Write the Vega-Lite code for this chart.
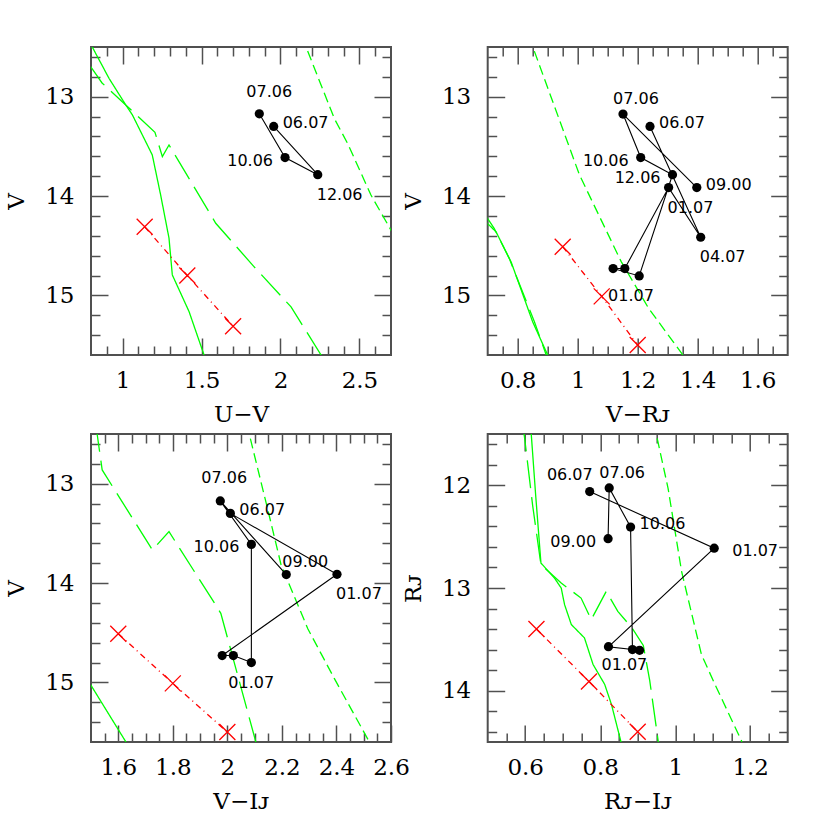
{
  "$schema": "https://vega.github.io/schema/vega-lite/v6.json",
  "background": "white",
  "padding": {"left": 4, "top": 44, "right": 0, "bottom": 0},
  "config": {
    "view": {"stroke": "#505050", "strokeWidth": 2},
    "axis": {"labelFont": "DejaVu Serif", "labelFontSize": 23, "labelColor": "black", "titleFont": "DejaVu Serif", "titleFontSize": 23, "titleFontWeight": "normal", "titleColor": "black", "domain": false, "grid": false, "tickColor": "#505050", "tickWidth": 1.5, "labelOverlap": false, "labelFlush": false, "labelBound": false}
  },
  "datasets": {
    "c1": [
      {"c": "solid", "i": 0, "x": 0.79, "y": 12.447}, {"c": "solid", "i": 1, "x": 0.914, "y": 12.815}, {"c": "solid", "i": 2, "x": 1.02, "y": 13.083}, {"c": "solid", "i": 3, "x": 1.062, "y": 13.183}, {"c": "solid", "i": 4, "x": 1.188, "y": 13.586}, {"c": "solid", "i": 5, "x": 1.241, "y": 13.989}, {"c": "solid", "i": 6, "x": 1.294, "y": 14.424}, {"c": "solid", "i": 7, "x": 1.315, "y": 14.794}, {"c": "solid", "i": 8, "x": 1.421, "y": 15.163}, {"c": "solid", "i": 9, "x": 1.516, "y": 15.6}, {"c": "solid", "i": 10, "x": 1.53, "y": 15.65},
      {"c": "long", "i": 0, "x": 0.78, "y": 12.657}, {"c": "long", "i": 1, "x": 0.87, "y": 12.862}, {"c": "long", "i": 2, "x": 1.02, "y": 13.083}, {"c": "long", "i": 3, "x": 1.205, "y": 13.358}, {"c": "long", "i": 4, "x": 1.252, "y": 13.604}, {"c": "long", "i": 5, "x": 1.294, "y": 13.486}, {"c": "long", "i": 6, "x": 1.59, "y": 14.274}, {"c": "long", "i": 7, "x": 1.832, "y": 14.71}, {"c": "long", "i": 8, "x": 2.067, "y": 15.116}, {"c": "long", "i": 9, "x": 2.257, "y": 15.6}, {"c": "long", "i": 10, "x": 2.27, "y": 15.65},
      {"c": "short", "i": 0, "x": 2.137, "y": 12.4}, {"c": "short", "i": 1, "x": 2.162, "y": 12.5}, {"c": "short", "i": 2, "x": 2.341, "y": 13.22}, {"c": "short", "i": 3, "x": 2.426, "y": 13.473}, {"c": "short", "i": 4, "x": 2.573, "y": 13.99}, {"c": "short", "i": 5, "x": 2.7, "y": 14.344}, {"c": "short", "i": 6, "x": 2.75, "y": 14.48},
      {"c": "red", "i": 0, "x": 1.14, "y": 14.31}, {"c": "red", "i": 1, "x": 1.41, "y": 14.8}, {"c": "red", "i": 2, "x": 1.7, "y": 15.31}
    ],
    "c2": [
      {"c": "solid", "i": 0, "x": 0.68, "y": 14.218}, {"c": "solid", "i": 1, "x": 0.7, "y": 14.278}, {"c": "solid", "i": 2, "x": 0.728, "y": 14.361}, {"c": "solid", "i": 3, "x": 0.778, "y": 14.663}, {"c": "solid", "i": 4, "x": 0.85, "y": 15.267}, {"c": "solid", "i": 5, "x": 0.9, "y": 15.6}, {"c": "solid", "i": 6, "x": 0.91, "y": 15.67},
      {"c": "long", "i": 0, "x": 0.68, "y": 14.14}, {"c": "long", "i": 1, "x": 0.7, "y": 14.228}, {"c": "long", "i": 2, "x": 0.722, "y": 14.328}, {"c": "long", "i": 3, "x": 0.772, "y": 14.63}, {"c": "long", "i": 4, "x": 0.856, "y": 15.267}, {"c": "long", "i": 5, "x": 0.895, "y": 15.6}, {"c": "long", "i": 6, "x": 0.905, "y": 15.67},
      {"c": "short", "i": 0, "x": 0.838, "y": 12.4}, {"c": "short", "i": 1, "x": 0.854, "y": 12.53}, {"c": "short", "i": 2, "x": 1.006, "y": 13.788}, {"c": "short", "i": 3, "x": 1.145, "y": 14.66}, {"c": "short", "i": 4, "x": 1.237, "y": 15.133}, {"c": "short", "i": 5, "x": 1.346, "y": 15.58}, {"c": "short", "i": 6, "x": 1.372, "y": 15.7},
      {"c": "red", "i": 0, "x": 0.95, "y": 14.51}, {"c": "red", "i": 1, "x": 1.08, "y": 15.01}, {"c": "red", "i": 2, "x": 1.2, "y": 15.5}
    ],
    "c3": [
      {"c": "solid", "i": 0, "x": 1.48, "y": 14.94}, {"c": "solid", "i": 1, "x": 1.499, "y": 15.025}, {"c": "solid", "i": 2, "x": 1.627, "y": 15.595}, {"c": "solid", "i": 3, "x": 1.65, "y": 15.697},
      {"c": "long", "i": 0, "x": 1.517, "y": 12.4}, {"c": "long", "i": 1, "x": 1.523, "y": 12.51}, {"c": "long", "i": 2, "x": 1.541, "y": 12.862}, {"c": "long", "i": 3, "x": 1.725, "y": 13.667}, {"c": "long", "i": 4, "x": 1.786, "y": 13.483}, {"c": "long", "i": 5, "x": 1.957, "y": 14.22}, {"c": "long", "i": 6, "x": 1.976, "y": 14.305}, {"c": "long", "i": 7, "x": 2.104, "y": 15.595}, {"c": "long", "i": 8, "x": 2.114, "y": 15.7},
      {"c": "short", "i": 0, "x": 2.072, "y": 12.4}, {"c": "short", "i": 1, "x": 2.081, "y": 12.51}, {"c": "short", "i": 2, "x": 2.153, "y": 13.315}, {"c": "short", "i": 3, "x": 2.197, "y": 13.818}, {"c": "short", "i": 4, "x": 2.295, "y": 14.46}, {"c": "short", "i": 5, "x": 2.392, "y": 14.96}, {"c": "short", "i": 6, "x": 2.52, "y": 15.596}, {"c": "short", "i": 7, "x": 2.54, "y": 15.7},
      {"c": "red", "i": 0, "x": 1.6, "y": 14.51}, {"c": "red", "i": 1, "x": 1.8, "y": 15.01}, {"c": "red", "i": 2, "x": 2.0, "y": 15.5}
    ],
    "c4": [
      {"c": "solid", "i": 0, "x": 0.612, "y": 11.4}, {"c": "solid", "i": 1, "x": 0.616, "y": 11.494}, {"c": "solid", "i": 2, "x": 0.628, "y": 12.1}, {"c": "solid", "i": 3, "x": 0.642, "y": 12.757}, {"c": "solid", "i": 4, "x": 0.678, "y": 12.903}, {"c": "solid", "i": 5, "x": 0.696, "y": 13.0}, {"c": "solid", "i": 6, "x": 0.705, "y": 13.162}, {"c": "solid", "i": 7, "x": 0.723, "y": 13.356}, {"c": "solid", "i": 8, "x": 0.758, "y": 13.486}, {"c": "solid", "i": 9, "x": 0.781, "y": 13.745}, {"c": "solid", "i": 10, "x": 0.812, "y": 13.939}, {"c": "solid", "i": 11, "x": 0.83, "y": 14.134}, {"c": "solid", "i": 12, "x": 0.856, "y": 14.507}, {"c": "solid", "i": 13, "x": 0.862, "y": 14.6},
      {"c": "long", "i": 0, "x": 0.592, "y": 11.4}, {"c": "long", "i": 1, "x": 0.598, "y": 11.526}, {"c": "long", "i": 2, "x": 0.62, "y": 12.2}, {"c": "long", "i": 3, "x": 0.642, "y": 12.773}, {"c": "long", "i": 4, "x": 0.696, "y": 12.952}, {"c": "long", "i": 5, "x": 0.749, "y": 13.098}, {"c": "long", "i": 6, "x": 0.776, "y": 13.308}, {"c": "long", "i": 7, "x": 0.816, "y": 13.033}, {"c": "long", "i": 8, "x": 0.847, "y": 13.227}, {"c": "long", "i": 9, "x": 0.885, "y": 13.39}, {"c": "long", "i": 10, "x": 0.915, "y": 13.56}, {"c": "long", "i": 11, "x": 0.932, "y": 13.9}, {"c": "long", "i": 12, "x": 0.955, "y": 14.5}, {"c": "long", "i": 13, "x": 0.96, "y": 14.6},
      {"c": "short", "i": 0, "x": 0.944, "y": 11.4}, {"c": "short", "i": 1, "x": 0.95, "y": 11.51}, {"c": "short", "i": 2, "x": 0.981, "y": 12.029}, {"c": "short", "i": 3, "x": 1.017, "y": 12.838}, {"c": "short", "i": 4, "x": 1.07, "y": 13.648}, {"c": "short", "i": 5, "x": 1.106, "y": 13.939}, {"c": "short", "i": 6, "x": 1.177, "y": 14.49}, {"c": "short", "i": 7, "x": 1.185, "y": 14.6},
      {"c": "red", "i": 0, "x": 0.63, "y": 13.4}, {"c": "red", "i": 1, "x": 0.77, "y": 13.91}, {"c": "red", "i": 2, "x": 0.9, "y": 14.4}
    ],
    "o1": [
      {"seq": 2, "x": 1.866, "y": 13.172, "label": "07.06", "pos": "N"},
      {"seq": 3, "x": 2.029, "y": 13.613, "label": "10.06", "pos": "W"},
      {"seq": 4, "x": 2.236, "y": 13.785, "label": "12.06", "pos": "S"},
      {"seq": 10, "x": 1.957, "y": 13.3, "label": "06.07", "pos": "E"}
    ],
    "o2": [
      {"seq": 1, "x": 1.397, "y": 13.915, "label": "09.00", "pos": "E"},
      {"seq": 2, "x": 1.151, "y": 13.175, "label": "07.06", "pos": "NE"},
      {"seq": 3, "x": 1.21, "y": 13.613, "label": "10.06", "pos": "W"},
      {"seq": 4, "x": 1.316, "y": 13.785, "label": "12.06", "pos": "W"},
      {"seq": 5, "x": 1.205, "y": 14.804, "label": "", "pos": ""},
      {"seq": 6, "x": 1.118, "y": 14.73, "label": "01.07", "pos": "SS"},
      {"seq": 7, "x": 1.157, "y": 14.73, "label": "", "pos": ""},
      {"seq": 8, "x": 1.303, "y": 13.915, "label": "01.07", "pos": "S"},
      {"seq": 9, "x": 1.41, "y": 14.415, "label": "04.07", "pos": "S"},
      {"seq": 10, "x": 1.241, "y": 13.3, "label": "06.07", "pos": "E"}
    ],
    "o3": [
      {"seq": 1, "x": 2.216, "y": 13.915, "label": "09.00", "pos": "NE2"},
      {"seq": 2, "x": 1.974, "y": 13.174, "label": "07.06", "pos": "NL"},
      {"seq": 3, "x": 2.088, "y": 13.611, "label": "10.06", "pos": "W"},
      {"seq": 5, "x": 2.088, "y": 14.8, "label": "", "pos": ""},
      {"seq": 6, "x": 2.022, "y": 14.73, "label": "01.07", "pos": "SS"},
      {"seq": 7, "x": 1.981, "y": 14.73, "label": "", "pos": ""},
      {"seq": 8, "x": 2.402, "y": 13.912, "label": "01.07", "pos": "S"},
      {"seq": 10, "x": 2.011, "y": 13.299, "label": "06.07", "pos": "E"}
    ],
    "o4": [
      {"seq": 1, "x": 0.821, "y": 12.52, "label": "09.00", "pos": "W"},
      {"seq": 2, "x": 0.824, "y": 12.025, "label": "07.06", "pos": "NE"},
      {"seq": 3, "x": 0.881, "y": 12.406, "label": "10.06", "pos": "E"},
      {"seq": 5, "x": 0.886, "y": 13.6, "label": "", "pos": ""},
      {"seq": 6, "x": 0.905, "y": 13.607, "label": "", "pos": ""},
      {"seq": 7, "x": 0.822, "y": 13.572, "label": "01.07", "pos": "SW"},
      {"seq": 8, "x": 1.104, "y": 12.612, "label": "01.07", "pos": "EE"},
      {"seq": 10, "x": 0.772, "y": 12.061, "label": "06.07", "pos": "NW"}
    ]
  },
  "columns": 2,
  "spacing": {"row": 79, "column": 96.7},
  "bounds": "flush",
  "resolve": {"scale": {"x": "independent", "y": "independent"}},
  "concat": [
    {
      "width": 300, "height": 308,
      "layer": [
        {
          "data": {"name": "c1"},
          "mark": {"type": "line", "strokeWidth": 1.3, "clip": true},
          "encoding": {
            "x": {"field": "x", "type": "quantitative", "scale": {"domain": [0.8, 2.7], "nice": false, "zero": false},
              "axis": {"orient": "bottom", "values": [0.9,1,1.1,1.2,1.3,1.4,1.5,1.6,1.7,1.8,1.9,2,2.1,2.2,2.3,2.4,2.5,2.6], "tickSize": {"condition": {"test": "abs(datum.value*2-round(datum.value*2))<0.001", "value": -17}, "value": -9}, "labelExpr": "abs(datum.value*2-round(datum.value*2))<0.001 ? ''+datum.value : ''", "labelPadding": 31, "title": "U−V", "titlePadding": 3}},
            "y": {"field": "y", "type": "quantitative", "scale": {"domain": [12.5, 15.6], "reverse": true, "nice": false, "zero": false},
              "axis": {"orient": "left", "values": [12.6,12.8,13,13.2,13.4,13.6,13.8,14,14.2,14.4,14.6,14.8,15,15.2,15.4], "tickSize": {"condition": {"test": "abs(datum.value-round(datum.value))<0.001", "value": -17}, "value": -9}, "labelExpr": "abs(datum.value-round(datum.value))<0.001 ? ''+datum.value : ''", "labelPadding": 34, "title": "V", "titlePadding": 16}},
            "color": {"field": "c", "type": "nominal", "scale": {"domain": ["solid", "long", "short", "red"], "range": ["#00ff00", "#00ff00", "#00ff00", "#ff0000"]}, "legend": null},
            "strokeDash": {"field": "c", "type": "nominal", "scale": {"domain": ["solid", "long", "short", "red"], "range": [[1, 0], [28, 9], [10, 5], [6, 4, 1, 4]]}, "legend": null},
            "order": {"field": "i", "type": "quantitative"}
          }
        },
        {
          "data": {"name": "c1"},
          "transform": [{"filter": "datum.c == 'red'"}],
          "mark": {"type": "point", "shape": "M-1,-1L1,1M-1,1L1,-1", "size": 256, "stroke": "#ff0000", "strokeWidth": 1.3, "filled": false, "opacity": 1},
          "encoding": {
            "x": {"field": "x", "type": "quantitative", "scale": {"domain": [0.8, 2.7], "nice": false, "zero": false},
              "axis": {"orient": "top", "values": [0.9,1,1.1,1.2,1.3,1.4,1.5,1.6,1.7,1.8,1.9,2,2.1,2.2,2.3,2.4,2.5,2.6], "tickSize": {"condition": {"test": "abs(datum.value*2-round(datum.value*2))<0.001", "value": -17}, "value": -9}, "labels": false, "title": null}},
            "y": {"field": "y", "type": "quantitative", "scale": {"domain": [12.5, 15.6], "reverse": true, "nice": false, "zero": false},
              "axis": {"orient": "right", "values": [12.6,12.8,13,13.2,13.4,13.6,13.8,14,14.2,14.4,14.6,14.8,15,15.2,15.4], "tickSize": {"condition": {"test": "abs(datum.value-round(datum.value))<0.001", "value": -17}, "value": -9}, "labels": false, "title": null}}
          }
        },
        {
          "data": {"name": "o1"},
          "mark": {"type": "line", "color": "black", "strokeWidth": 1.1},
          "encoding": {
            "x": {"field": "x", "type": "quantitative", "axis": null},
            "y": {"field": "y", "type": "quantitative", "axis": null},
            "order": {"field": "seq", "type": "quantitative"}
          }
        },
        {
          "data": {"name": "o1"},
          "mark": {"type": "circle", "size": 85, "color": "black", "opacity": 1},
          "encoding": {
            "x": {"field": "x", "type": "quantitative", "axis": null},
            "y": {"field": "y", "type": "quantitative", "axis": null}
          }
        },
        {
          "data": {"name": "o1"},
          "transform": [{"filter": "datum.label != ''"}],
          "mark": {"type": "text", "font": "DejaVu Sans", "fontSize": 16, "color": "black", "baseline": "middle",
            "align": {"expr": "(datum.pos=='W'||datum.pos=='NW') ? 'right' : 'left'"},
            "dx": {"expr": "datum.pos=='E'?9:datum.pos=='W'?-12:datum.pos=='S'?-1:datum.pos=='SS'?-5:datum.pos=='SW'?-7:datum.pos=='N'?-13:datum.pos=='NL'?-19:datum.pos=='NE'?-10:datum.pos=='NE2'?-4:datum.pos=='NW'?3:datum.pos=='EE'?18:0"},
            "dy": {"expr": "datum.pos=='E'?-3:datum.pos=='W'?3:datum.pos=='S'?20:datum.pos=='SS'?27:datum.pos=='SW'?18:datum.pos=='N'?-22:datum.pos=='NL'?-23:datum.pos=='NE'?-15:datum.pos=='NE2'?-13:datum.pos=='NW'?-17:datum.pos=='EE'?3:0"}},
          "encoding": {
            "x": {"field": "x", "type": "quantitative", "axis": null},
            "y": {"field": "y", "type": "quantitative", "axis": null},
            "text": {"field": "label"}
          }
        }
      ],
      "resolve": {"axis": {"x": "independent", "y": "independent"}}
    },
    {
      "width": 300, "height": 308,
      "layer": [
        {
          "data": {"name": "c2"},
          "mark": {"type": "line", "strokeWidth": 1.3, "clip": true},
          "encoding": {
            "x": {"field": "x", "type": "quantitative", "scale": {"domain": [0.7, 1.7], "nice": false, "zero": false},
              "axis": {"orient": "bottom", "values": [0.75,0.8,0.85,0.9,0.95,1,1.05,1.1,1.15,1.2,1.25,1.3,1.35,1.4,1.45,1.5,1.55,1.6,1.65], "tickSize": {"condition": {"test": "abs(datum.value*5-round(datum.value*5))<0.001", "value": -17}, "value": -9}, "labelExpr": "abs(datum.value*5-round(datum.value*5))<0.001 ? ''+datum.value : ''", "labelPadding": 31, "title": "V−Rᴊ", "titlePadding": 3}},
            "y": {"field": "y", "type": "quantitative", "scale": {"domain": [12.5, 15.6], "reverse": true, "nice": false, "zero": false},
              "axis": {"orient": "left", "values": [12.6,12.8,13,13.2,13.4,13.6,13.8,14,14.2,14.4,14.6,14.8,15,15.2,15.4], "tickSize": {"condition": {"test": "abs(datum.value-round(datum.value))<0.001", "value": -17}, "value": -9}, "labelExpr": "abs(datum.value-round(datum.value))<0.001 ? ''+datum.value : ''", "labelPadding": 34, "title": "V", "titlePadding": 16}},
            "color": {"field": "c", "type": "nominal", "scale": {"domain": ["solid", "long", "short", "red"], "range": ["#00ff00", "#00ff00", "#00ff00", "#ff0000"]}, "legend": null},
            "strokeDash": {"field": "c", "type": "nominal", "scale": {"domain": ["solid", "long", "short", "red"], "range": [[1, 0], [28, 9], [10, 5], [6, 4, 1, 4]]}, "legend": null},
            "order": {"field": "i", "type": "quantitative"}
          }
        },
        {
          "data": {"name": "c2"},
          "transform": [{"filter": "datum.c == 'red'"}],
          "mark": {"type": "point", "shape": "M-1,-1L1,1M-1,1L1,-1", "size": 256, "stroke": "#ff0000", "strokeWidth": 1.3, "filled": false, "opacity": 1},
          "encoding": {
            "x": {"field": "x", "type": "quantitative", "scale": {"domain": [0.7, 1.7], "nice": false, "zero": false},
              "axis": {"orient": "top", "values": [0.75,0.8,0.85,0.9,0.95,1,1.05,1.1,1.15,1.2,1.25,1.3,1.35,1.4,1.45,1.5,1.55,1.6,1.65], "tickSize": {"condition": {"test": "abs(datum.value*5-round(datum.value*5))<0.001", "value": -17}, "value": -9}, "labels": false, "title": null}},
            "y": {"field": "y", "type": "quantitative", "scale": {"domain": [12.5, 15.6], "reverse": true, "nice": false, "zero": false},
              "axis": {"orient": "right", "values": [12.6,12.8,13,13.2,13.4,13.6,13.8,14,14.2,14.4,14.6,14.8,15,15.2,15.4], "tickSize": {"condition": {"test": "abs(datum.value-round(datum.value))<0.001", "value": -17}, "value": -9}, "labels": false, "title": null}}
          }
        },
        {
          "data": {"name": "o2"},
          "mark": {"type": "line", "color": "black", "strokeWidth": 1.1},
          "encoding": {
            "x": {"field": "x", "type": "quantitative", "axis": null},
            "y": {"field": "y", "type": "quantitative", "axis": null},
            "order": {"field": "seq", "type": "quantitative"}
          }
        },
        {
          "data": {"name": "o2"},
          "mark": {"type": "circle", "size": 85, "color": "black", "opacity": 1},
          "encoding": {
            "x": {"field": "x", "type": "quantitative", "axis": null},
            "y": {"field": "y", "type": "quantitative", "axis": null}
          }
        },
        {
          "data": {"name": "o2"},
          "transform": [{"filter": "datum.label != ''"}],
          "mark": {"type": "text", "font": "DejaVu Sans", "fontSize": 16, "color": "black", "baseline": "middle",
            "align": {"expr": "(datum.pos=='W'||datum.pos=='NW') ? 'right' : 'left'"},
            "dx": {"expr": "datum.pos=='E'?9:datum.pos=='W'?-12:datum.pos=='S'?-1:datum.pos=='SS'?-5:datum.pos=='SW'?-7:datum.pos=='N'?-13:datum.pos=='NL'?-19:datum.pos=='NE'?-10:datum.pos=='NE2'?-4:datum.pos=='NW'?3:datum.pos=='EE'?18:0"},
            "dy": {"expr": "datum.pos=='E'?-3:datum.pos=='W'?3:datum.pos=='S'?20:datum.pos=='SS'?27:datum.pos=='SW'?18:datum.pos=='N'?-22:datum.pos=='NL'?-23:datum.pos=='NE'?-15:datum.pos=='NE2'?-13:datum.pos=='NW'?-17:datum.pos=='EE'?3:0"}},
          "encoding": {
            "x": {"field": "x", "type": "quantitative", "axis": null},
            "y": {"field": "y", "type": "quantitative", "axis": null},
            "text": {"field": "label"}
          }
        }
      ],
      "resolve": {"axis": {"x": "independent", "y": "independent"}}
    },
    {
      "width": 300, "height": 308,
      "layer": [
        {
          "data": {"name": "c3"},
          "mark": {"type": "line", "strokeWidth": 1.3, "clip": true},
          "encoding": {
            "x": {"field": "x", "type": "quantitative", "scale": {"domain": [1.5, 2.6], "nice": false, "zero": false},
              "axis": {"orient": "bottom", "values": [1.55,1.6,1.65,1.7,1.75,1.8,1.85,1.9,1.95,2,2.05,2.1,2.15,2.2,2.25,2.3,2.35,2.4,2.45,2.5,2.55,2.6], "tickSize": {"condition": {"test": "abs(datum.value*5-round(datum.value*5))<0.001", "value": -17}, "value": -9}, "labelExpr": "abs(datum.value*5-round(datum.value*5))<0.001 ? ''+datum.value : ''", "labelPadding": 31, "title": "V−Iᴊ", "titlePadding": 3}},
            "y": {"field": "y", "type": "quantitative", "scale": {"domain": [12.5, 15.6], "reverse": true, "nice": false, "zero": false},
              "axis": {"orient": "left", "values": [12.6,12.8,13,13.2,13.4,13.6,13.8,14,14.2,14.4,14.6,14.8,15,15.2,15.4], "tickSize": {"condition": {"test": "abs(datum.value-round(datum.value))<0.001", "value": -17}, "value": -9}, "labelExpr": "abs(datum.value-round(datum.value))<0.001 ? ''+datum.value : ''", "labelPadding": 34, "title": "V", "titlePadding": 16}},
            "color": {"field": "c", "type": "nominal", "scale": {"domain": ["solid", "long", "short", "red"], "range": ["#00ff00", "#00ff00", "#00ff00", "#ff0000"]}, "legend": null},
            "strokeDash": {"field": "c", "type": "nominal", "scale": {"domain": ["solid", "long", "short", "red"], "range": [[1, 0], [28, 9], [10, 5], [6, 4, 1, 4]]}, "legend": null},
            "order": {"field": "i", "type": "quantitative"}
          }
        },
        {
          "data": {"name": "c3"},
          "transform": [{"filter": "datum.c == 'red'"}],
          "mark": {"type": "point", "shape": "M-1,-1L1,1M-1,1L1,-1", "size": 256, "stroke": "#ff0000", "strokeWidth": 1.3, "filled": false, "opacity": 1},
          "encoding": {
            "x": {"field": "x", "type": "quantitative", "scale": {"domain": [1.5, 2.6], "nice": false, "zero": false},
              "axis": {"orient": "top", "values": [1.55,1.6,1.65,1.7,1.75,1.8,1.85,1.9,1.95,2,2.05,2.1,2.15,2.2,2.25,2.3,2.35,2.4,2.45,2.5,2.55], "tickSize": {"condition": {"test": "abs(datum.value*5-round(datum.value*5))<0.001", "value": -17}, "value": -9}, "labels": false, "title": null}},
            "y": {"field": "y", "type": "quantitative", "scale": {"domain": [12.5, 15.6], "reverse": true, "nice": false, "zero": false},
              "axis": {"orient": "right", "values": [12.6,12.8,13,13.2,13.4,13.6,13.8,14,14.2,14.4,14.6,14.8,15,15.2,15.4], "tickSize": {"condition": {"test": "abs(datum.value-round(datum.value))<0.001", "value": -17}, "value": -9}, "labels": false, "title": null}}
          }
        },
        {
          "data": {"name": "o3"},
          "mark": {"type": "line", "color": "black", "strokeWidth": 1.1},
          "encoding": {
            "x": {"field": "x", "type": "quantitative", "axis": null},
            "y": {"field": "y", "type": "quantitative", "axis": null},
            "order": {"field": "seq", "type": "quantitative"}
          }
        },
        {
          "data": {"name": "o3"},
          "mark": {"type": "circle", "size": 85, "color": "black", "opacity": 1},
          "encoding": {
            "x": {"field": "x", "type": "quantitative", "axis": null},
            "y": {"field": "y", "type": "quantitative", "axis": null}
          }
        },
        {
          "data": {"name": "o3"},
          "transform": [{"filter": "datum.label != ''"}],
          "mark": {"type": "text", "font": "DejaVu Sans", "fontSize": 16, "color": "black", "baseline": "middle",
            "align": {"expr": "(datum.pos=='W'||datum.pos=='NW') ? 'right' : 'left'"},
            "dx": {"expr": "datum.pos=='E'?9:datum.pos=='W'?-12:datum.pos=='S'?-1:datum.pos=='SS'?-5:datum.pos=='SW'?-7:datum.pos=='N'?-13:datum.pos=='NL'?-19:datum.pos=='NE'?-10:datum.pos=='NE2'?-4:datum.pos=='NW'?3:datum.pos=='EE'?18:0"},
            "dy": {"expr": "datum.pos=='E'?-3:datum.pos=='W'?3:datum.pos=='S'?20:datum.pos=='SS'?27:datum.pos=='SW'?18:datum.pos=='N'?-22:datum.pos=='NL'?-23:datum.pos=='NE'?-15:datum.pos=='NE2'?-13:datum.pos=='NW'?-17:datum.pos=='EE'?3:0"}},
          "encoding": {
            "x": {"field": "x", "type": "quantitative", "axis": null},
            "y": {"field": "y", "type": "quantitative", "axis": null},
            "text": {"field": "label"}
          }
        }
      ],
      "resolve": {"axis": {"x": "independent", "y": "independent"}}
    },
    {
      "width": 300, "height": 308,
      "layer": [
        {
          "data": {"name": "c4"},
          "mark": {"type": "line", "strokeWidth": 1.3, "clip": true},
          "encoding": {
            "x": {"field": "x", "type": "quantitative", "scale": {"domain": [0.5, 1.3], "nice": false, "zero": false},
              "axis": {"orient": "bottom", "values": [0.55,0.6,0.65,0.7,0.75,0.8,0.85,0.9,0.95,1,1.05,1.1,1.15,1.2,1.25], "tickSize": {"condition": {"test": "abs(datum.value*5-round(datum.value*5))<0.001", "value": -17}, "value": -9}, "labelExpr": "abs(datum.value*5-round(datum.value*5))<0.001 ? ''+datum.value : ''", "labelPadding": 31, "title": "Rᴊ−Iᴊ", "titlePadding": 3}},
            "y": {"field": "y", "type": "quantitative", "scale": {"domain": [11.5, 14.5], "reverse": true, "nice": false, "zero": false},
              "axis": {"orient": "left", "values": [11.6,11.8,12,12.2,12.4,12.6,12.8,13,13.2,13.4,13.6,13.8,14,14.2,14.4], "tickSize": {"condition": {"test": "abs(datum.value-round(datum.value))<0.001", "value": -17}, "value": -9}, "labelExpr": "abs(datum.value-round(datum.value))<0.001 ? ''+datum.value : ''", "labelPadding": 34, "title": "Rᴊ", "titlePadding": 16}},
            "color": {"field": "c", "type": "nominal", "scale": {"domain": ["solid", "long", "short", "red"], "range": ["#00ff00", "#00ff00", "#00ff00", "#ff0000"]}, "legend": null},
            "strokeDash": {"field": "c", "type": "nominal", "scale": {"domain": ["solid", "long", "short", "red"], "range": [[1, 0], [28, 9], [10, 5], [6, 4, 1, 4]]}, "legend": null},
            "order": {"field": "i", "type": "quantitative"}
          }
        },
        {
          "data": {"name": "c4"},
          "transform": [{"filter": "datum.c == 'red'"}],
          "mark": {"type": "point", "shape": "M-1,-1L1,1M-1,1L1,-1", "size": 256, "stroke": "#ff0000", "strokeWidth": 1.3, "filled": false, "opacity": 1},
          "encoding": {
            "x": {"field": "x", "type": "quantitative", "scale": {"domain": [0.5, 1.3], "nice": false, "zero": false},
              "axis": {"orient": "top", "values": [0.55,0.6,0.65,0.7,0.75,0.8,0.85,0.9,0.95,1,1.05,1.1,1.15,1.2,1.25], "tickSize": {"condition": {"test": "abs(datum.value*5-round(datum.value*5))<0.001", "value": -17}, "value": -9}, "labels": false, "title": null}},
            "y": {"field": "y", "type": "quantitative", "scale": {"domain": [11.5, 14.5], "reverse": true, "nice": false, "zero": false},
              "axis": {"orient": "right", "values": [11.6,11.8,12,12.2,12.4,12.6,12.8,13,13.2,13.4,13.6,13.8,14,14.2,14.4], "tickSize": {"condition": {"test": "abs(datum.value-round(datum.value))<0.001", "value": -17}, "value": -9}, "labels": false, "title": null}}
          }
        },
        {
          "data": {"name": "o4"},
          "mark": {"type": "line", "color": "black", "strokeWidth": 1.1},
          "encoding": {
            "x": {"field": "x", "type": "quantitative", "axis": null},
            "y": {"field": "y", "type": "quantitative", "axis": null},
            "order": {"field": "seq", "type": "quantitative"}
          }
        },
        {
          "data": {"name": "o4"},
          "mark": {"type": "circle", "size": 85, "color": "black", "opacity": 1},
          "encoding": {
            "x": {"field": "x", "type": "quantitative", "axis": null},
            "y": {"field": "y", "type": "quantitative", "axis": null}
          }
        },
        {
          "data": {"name": "o4"},
          "transform": [{"filter": "datum.label != ''"}],
          "mark": {"type": "text", "font": "DejaVu Sans", "fontSize": 16, "color": "black", "baseline": "middle",
            "align": {"expr": "(datum.pos=='W'||datum.pos=='NW') ? 'right' : 'left'"},
            "dx": {"expr": "datum.pos=='E'?9:datum.pos=='W'?-12:datum.pos=='S'?-1:datum.pos=='SS'?-5:datum.pos=='SW'?-7:datum.pos=='N'?-13:datum.pos=='NL'?-19:datum.pos=='NE'?-10:datum.pos=='NE2'?-4:datum.pos=='NW'?3:datum.pos=='EE'?18:0"},
            "dy": {"expr": "datum.pos=='E'?-3:datum.pos=='W'?3:datum.pos=='S'?20:datum.pos=='SS'?27:datum.pos=='SW'?18:datum.pos=='N'?-22:datum.pos=='NL'?-23:datum.pos=='NE'?-15:datum.pos=='NE2'?-13:datum.pos=='NW'?-17:datum.pos=='EE'?3:0"}},
          "encoding": {
            "x": {"field": "x", "type": "quantitative", "axis": null},
            "y": {"field": "y", "type": "quantitative", "axis": null},
            "text": {"field": "label"}
          }
        }
      ],
      "resolve": {"axis": {"x": "independent", "y": "independent"}}
    }
  ]
}
